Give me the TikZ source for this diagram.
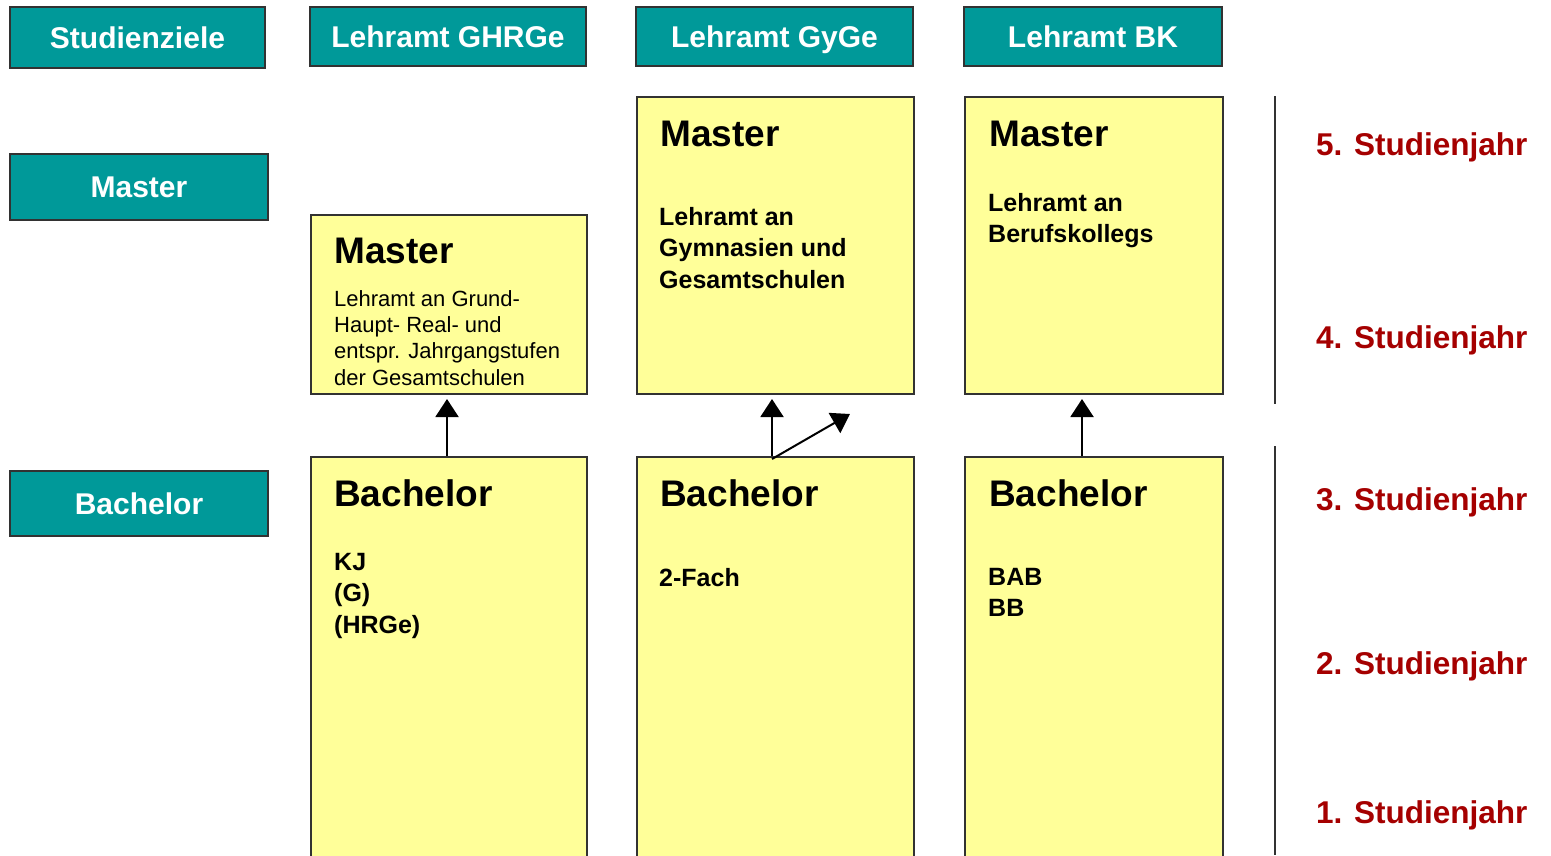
\documentclass[tikz,border=0pt]{standalone}
\usepackage{fontspec}
\setmainfont{Liberation Sans}
\usetikzlibrary{arrows.meta}
\definecolor{tealbox}{RGB}{0,153,153}
\definecolor{paleyellow}{RGB}{255,255,153}
\definecolor{yearred}{RGB}{165,0,0}
\definecolor{edge}{RGB}{50,50,50}
\begin{document}
\begin{tikzpicture}[x=1pt,y=-1pt,
  hdr/.style={draw=edge, line width=2pt, fill=tealbox, text=white, inner sep=0pt,
    text height=23.5pt, text depth=2pt,
    font=\bfseries\fontsize{30}{32}\selectfont},
  ybox/.style={draw=edge, line width=2pt, fill=paleyellow, inner sep=0pt, anchor=north west},
  ttl/.style={anchor=base west, inner sep=0pt, font=\bfseries\fontsize{37}{40}\selectfont},
  bodyr/.style={anchor=north west, inner sep=0pt, align=left, font=\fontsize{22}{26.3}\selectfont},
  bodyb/.style={anchor=north west, inner sep=0pt, align=left, font=\bfseries\fontsize{25}{31.5}\selectfont},
  year/.style={anchor=base west, inner sep=0pt, text=yearred, font=\bfseries\fontsize{31.5}{33}\selectfont},
  arr/.style={draw=black, line width=2pt, -{Triangle[length=18pt,width=23pt]}},
  sep/.style={draw=edge, line width=2pt}
]
\useasboundingbox (0,0) rectangle (1551,855);
\fill[white] (0,0) rectangle (1551,855);

% header row
\node[hdr, minimum width=255pt, minimum height=61pt] (stz) at (137.5,37.5) {Studienziele};
\node[hdr, minimum width=276pt, minimum height=59pt] (hg) at (448,36.5) {Lehramt GHRGe};
\node[hdr, minimum width=277pt, minimum height=59pt] (hy) at (774.5,36.5) {Lehramt GyGe};
\node[hdr, minimum width=258pt, minimum height=59pt] (hb) at (1093,36.5) {Lehramt BK};

% row labels
\node[hdr, minimum width=258pt, minimum height=66pt] (lm) at (139,187) {Master};
\node[hdr, minimum width=258pt, minimum height=65pt] (lb) at (139,503.5) {Bachelor};

% master boxes
\node[ybox, minimum width=276pt, minimum height=179pt] (mg) at (310,214) {};
\node[ybox, minimum width=277pt, minimum height=297pt] (my) at (636,96) {};
\node[ybox, minimum width=258pt, minimum height=297pt] (mb) at (964,96) {};

% bachelor boxes
\node[ybox, minimum width=276pt, minimum height=410pt] (bg) at (310,456) {};
\node[ybox, minimum width=277pt, minimum height=410pt] (by) at (636,456) {};
\node[ybox, minimum width=258pt, minimum height=410pt] (bb) at (964,456) {};

% master texts
\node[ttl] (tmg) at (334,263) {Master};
\node[bodyr] (xmg) at (334,290) {Lehramt an Grund-\\Haupt- Real- und\\entspr. Jahrgangstufen\\der Gesamtschulen};
\node[ttl] (tmy) at (660,146) {Master};
\node[bodyb] (xmy) at (659,207) {Lehramt an\\Gymnasien und\\Gesamtschulen};
\node[ttl] (tmb) at (989,146) {Master};
\node[bodyb] (xmb) at (988,193) {Lehramt an\\Berufskollegs};

% bachelor texts
\node[ttl] (tbg) at (334,506) {Bachelor};
\node[bodyb] (xbg) at (334,553) {KJ\\(G)\\(HRGe)};
\node[ttl] (tby) at (660,506) {Bachelor};
\node[bodyb] (xby) at (659,568) {2-Fach};
\node[ttl] (tbb) at (989,506) {Bachelor};
\node[bodyb] (xbb) at (988,568) {BAB\\BB};

% arrows
\draw[arr, shorten >=4pt] ([xshift=-2pt]bg.north) -- ([xshift=-2pt]mg.south);
\draw[arr, shorten >=4pt] ([xshift=-3.5pt]by.north) -- ([xshift=-3.5pt]my.south);
\coordinate (dg) at (850,414);
\draw[arr] ([xshift=-3.5pt,yshift=-3pt]by.north) -- (dg);
\draw[arr, shorten >=4pt] ([xshift=-12pt]bb.north) -- ([xshift=-12pt]mb.south);

% separators
\coordinate (s1a) at (1275,96);
\coordinate (s1b) at (1275,404);
\coordinate (s2a) at (1275,446);
\coordinate (s2b) at (1275,855);
\draw[sep] (s1a) -- (s1b);
\draw[sep] (s2a) -- (s2b);

% years
\node[year] (y5) at (1316,155) {5. Studienjahr};
\node[year] (y4) at (1316,348) {4. Studienjahr};
\node[year] (y3) at (1316,510) {3. Studienjahr};
\node[year] (y2) at (1316,674) {2. Studienjahr};
\node[year] (y1) at (1316,823) {1. Studienjahr};
\end{tikzpicture}
\end{document}
